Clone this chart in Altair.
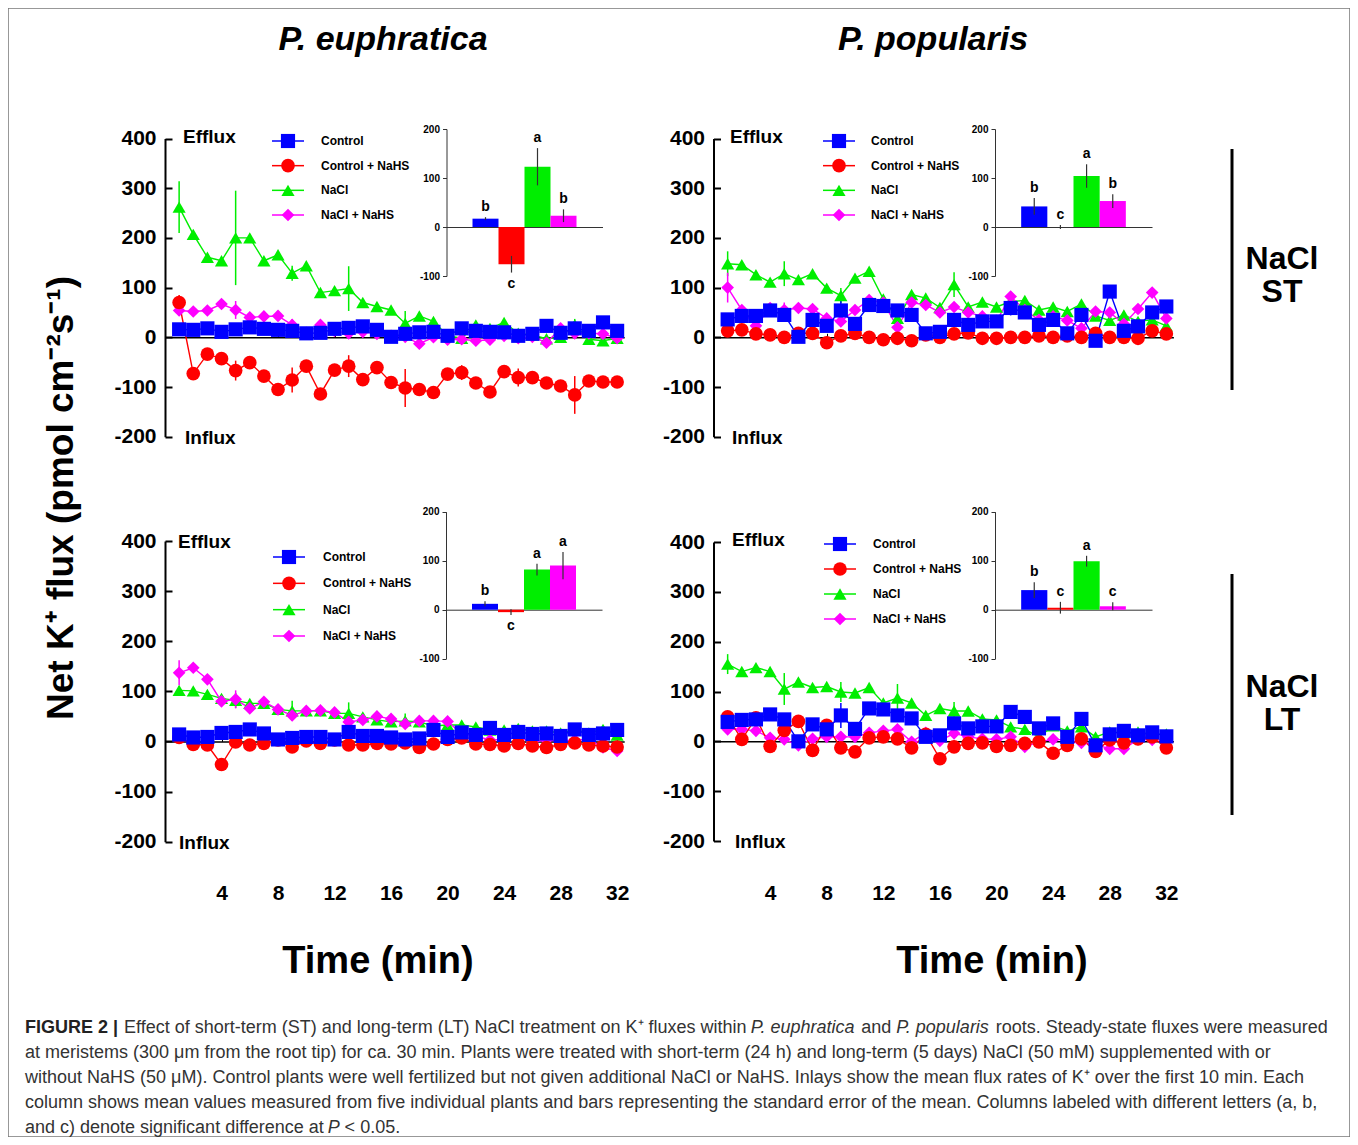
import altair as alt
import pandas as pd

# ---------------- data ----------------
TIME = list(range(1, 33))
SERIES = ["Control", "Control + NaHS", "NaCl", "NaCl + NaHS"]
COLORS = ["#0000FF", "#FF0000", "#00EE00", "#FF00FF"]
SHAPES = ["square", "circle", "triangle-up", "diamond"]
SIZES = [200, 160, 160, 120]
DRAW_ORDER = ["NaCl", "NaCl + NaHS", "Control + NaHS", "Control"]
Y_TICKS = [-200, -100, 0, 100, 200, 300, 400]
X_TICKS = [4, 8, 12, 16, 20, 24, 28, 32]
INSET_TICKS = [-100, 0, 100, 200]

# P. euphratica, NaCl short-term
EU_ST_CTRL = [16, 15, 18, 11, 16, 20, 17, 15, 13, 8, 9, 17, 19, 22, 15, 1, 7, 10, 11, 3, 18, 13, 11, 10, 3, 7, 23, 9, 18, 13, 30, 13]
EU_ST_CTRL_NAHS = [70, -73, -34, -43, -67, -51, -78, -105, -86, -58, -114, -66, -58, -85, -61, -91, -102, -105, -111, -74, -71, -92, -110, -69, -81, -81, -92, -98, -116, -88, -90, -90]
EU_ST_NACL = [262, 207, 161, 154, 200, 200, 154, 166, 129, 144, 90, 94, 98, 70, 62, 55, 28, 43, 32, 3, -2, 25, 18, 30, 8, 5, -3, 0, 25, -4, -7, -2]
EU_ST_NACL_NAHS = [54, 52, 54, 67, 55, 40, 42, 43, 25, 9, 25, 13, 8, 11, 7, 3, 1, -13, 0, -5, -4, -7, -5, 3, -2, 1, -11, 18, 8, 8, 7, -2]
EU_ST_CTRL_ERR = [3, 0, 0, 0, 4, 0, 0, 0, 4, 0, 0, 0, 5, 0, 0, 0, 4, 0, 0, 0, 8, 0, 0, 0, 5, 0, 0, 0, 8, 0, 0, 0]
EU_ST_CTRL_NAHS_ERR = [15, 0, 0, 0, 20, 0, 0, 0, 25, 0, 0, 0, 22, 0, 0, 0, 38, 0, 0, 0, 15, 0, 0, 0, 18, 0, 0, 0, 38, 0, 0, 0]
EU_ST_NACL_ERR = [52, 0, 0, 0, 95, 0, 0, 0, 15, 0, 0, 0, 45, 0, 0, 0, 25, 0, 0, 0, 10, 0, 0, 0, 8, 0, 0, 0, 12, 0, 0, 0]
EU_ST_NACL_NAHS_ERR = [10, 0, 0, 0, 18, 0, 0, 0, 12, 0, 0, 0, 8, 0, 0, 0, 10, 0, 0, 0, 8, 0, 0, 0, 8, 0, 0, 0, 10, 0, 0, 0]

# P. popularis, NaCl short-term
PO_ST_CTRL = [36, 43, 43, 54, 45, 1, 35, 23, 54, 27, 65, 63, 54, 45, 8, 11, 35, 25, 32, 32, 59, 50, 25, 35, 8, 45, -7, 92, 13, 22, 50, 62]
PO_ST_CTRL_NAHS = [13, 15, 7, 5, 0, 8, 8, -11, 3, 8, 0, -5, -2, -7, 5, 0, 7, 9, -2, -2, 0, 0, 3, 0, 3, 0, 8, 0, 0, -2, 13, 7]
PO_ST_NACL = [148, 146, 126, 111, 128, 116, 128, 99, 84, 119, 133, 77, 38, 86, 79, 60, 106, 61, 71, 61, 72, 74, 55, 61, 52, 67, 43, 34, 45, 32, 35, 23]
PO_ST_NACL_NAHS = [100, 55, 23, 59, 55, 59, 57, 38, 32, 55, 75, 70, 20, 70, 65, 50, 61, 50, 42, 33, 82, 55, 35, 42, 34, 18, 52, 50, 27, 57, 90, 38]
PO_ST_CTRL_ERR = [5, 0, 0, 0, 12, 0, 0, 0, 25, 0, 0, 0, 8, 0, 0, 0, 6, 0, 0, 0, 15, 0, 0, 0, 6, 0, 0, 0, 6, 0, 0, 0]
PO_ST_CTRL_NAHS_ERR = [5, 0, 0, 0, 5, 0, 0, 0, 5, 0, 0, 0, 5, 0, 0, 0, 5, 0, 0, 0, 5, 0, 0, 0, 5, 0, 0, 0, 5, 0, 0, 0]
PO_ST_NACL_ERR = [25, 0, 0, 0, 25, 0, 0, 0, 15, 0, 0, 0, 10, 0, 0, 0, 25, 0, 0, 0, 12, 0, 0, 0, 8, 0, 0, 0, 8, 0, 0, 0]
PO_ST_NACL_NAHS_ERR = [30, 0, 0, 0, 15, 0, 0, 0, 10, 0, 0, 0, 10, 0, 0, 0, 10, 0, 0, 0, 8, 0, 0, 0, 6, 0, 0, 0, 6, 0, 0, 0]

# P. euphratica, NaCl long-term
EU_LT_CTRL = [14, 8, 9, 17, 19, 24, 16, 4, 7, 9, 9, 4, 19, 11, 11, 8, 4, 6, 23, 9, 18, 13, 27, 13, 19, 15, 16, 11, 24, 13, 16, 23]
EU_LT_CTRL_NAHS = [8, -6, -7, -46, -1, -7, -4, 3, -11, 1, -4, 3, -7, -7, -4, -5, -3, -12, -5, 4, 7, -5, -6, -9, -4, -9, -12, -6, -3, -7, -9, -11]
EU_LT_NACL = [102, 101, 94, 86, 82, 76, 76, 64, 61, 61, 61, 56, 56, 49, 43, 39, 41, 39, 31, 33, 33, 29, 23, 23, 26, 21, 21, 17, 23, 17, 24, 13]
EU_LT_NACL_NAHS = [137, 147, 124, 80, 84, 66, 79, 64, 52, 61, 62, 58, 39, 43, 50, 45, 35, 41, 41, 40, 15, 11, 3, 4, 8, -1, 3, 1, 3, 4, -12, -19]
EU_LT_CTRL_ERR = [4, 0, 0, 0, 5, 0, 0, 0, 4, 0, 0, 0, 4, 0, 0, 0, 4, 0, 0, 0, 4, 0, 0, 0, 4, 0, 0, 0, 4, 0, 0, 0]
EU_LT_CTRL_NAHS_ERR = [4, 0, 0, 0, 5, 0, 0, 0, 4, 0, 0, 0, 4, 0, 0, 0, 4, 0, 0, 0, 4, 0, 0, 0, 4, 0, 0, 0, 4, 0, 0, 0]
EU_LT_NACL_ERR = [8, 0, 0, 0, 15, 0, 0, 0, 20, 0, 0, 0, 22, 0, 0, 0, 15, 0, 0, 0, 8, 0, 0, 0, 6, 0, 0, 0, 6, 0, 0, 0]
EU_LT_NACL_NAHS_ERR = [25, 0, 0, 0, 18, 0, 0, 0, 10, 0, 0, 0, 8, 0, 0, 0, 6, 0, 0, 0, 5, 0, 0, 0, 5, 0, 0, 0, 5, 0, 0, 0]

# P. popularis, NaCl long-term
PO_LT_CTRL = [39, 43, 44, 54, 44, 0, 34, 24, 52, 25, 66, 64, 52, 46, 9, 12, 36, 26, 30, 30, 59, 49, 26, 36, 9, 45, -8, 14, 21, 12, 18, 10]
PO_LT_CTRL_NAHS = [49, 4, 47, -10, 22, 40, -18, 32, -13, -21, 7, 9, 5, -13, 14, -35, -11, -4, -3, -10, -8, -4, -1, -24, -8, 5, -20, 3, -3, 5, 9, -13]
PO_LT_NACL = [155, 140, 148, 140, 105, 119, 108, 110, 99, 97, 108, 77, 87, 77, 52, 66, 61, 61, 45, 43, 29, 24, 9, 31, 21, 29, 9, 19, 17, 19, 14, 15]
PO_LT_NACL_NAHS = [24, 24, 21, 7, 4, -8, 5, 9, 9, 9, 17, 21, 24, -1, 17, 1, 16, 9, 5, 4, 9, -11, -1, 4, 3, -3, -6, -15, -15, 4, 3, 3]
PO_LT_CTRL_ERR = [6, 0, 0, 0, 10, 0, 0, 0, 25, 0, 0, 0, 8, 0, 0, 0, 6, 0, 0, 0, 6, 0, 0, 0, 6, 0, 0, 0, 6, 0, 0, 0]
PO_LT_CTRL_NAHS_ERR = [6, 0, 0, 0, 10, 0, 0, 0, 12, 0, 0, 0, 6, 0, 0, 0, 12, 0, 0, 0, 8, 0, 0, 0, 12, 0, 0, 0, 6, 0, 0, 0]
PO_LT_NACL_ERR = [20, 0, 0, 0, 32, 0, 0, 0, 20, 0, 0, 0, 28, 0, 0, 0, 18, 0, 0, 0, 8, 0, 0, 0, 6, 0, 0, 0, 6, 0, 0, 0]
PO_LT_NACL_NAHS_ERR = [6, 0, 0, 0, 5, 0, 0, 0, 5, 0, 0, 0, 5, 0, 0, 0, 5, 0, 0, 0, 5, 0, 0, 0, 5, 0, 0, 0, 5, 0, 0, 0]

# inlays: mean flux over first 10 min
EU_ST_BAR = [17, -76, 123, 23]
EU_ST_BAR_ERR = [3, 17, 38, 13]
EU_ST_LETTERS = ["b", "c", "a", "b"]
PO_ST_BAR = [42, 0, 104, 53]
PO_ST_BAR_ERR = [17, 4, 24, 14]
PO_ST_LETTERS = ["b", "c", "a", "b"]
EU_LT_BAR = [12, -5, 82, 90]
EU_LT_BAR_ERR = [5, 6, 12, 28]
EU_LT_LETTERS = ["b", "c", "a", "a"]
PO_LT_BAR = [40, 4, 99, 7]
PO_LT_BAR_ERR = [16, 12, 11, 8]
PO_LT_LETTERS = ["b", "c", "a", "c"]

# caption: each line is a list of (text, italic) segments
CAPTION = [
    [("Effect of short-term (ST) and long-term (LT) NaCl treatment on K\u207a fluxes within ", False),
     ("P. euphratica", True), (" and ", False), ("P. popularis", True),
     (" roots. Steady-state fluxes were measured", False)],
    [("at meristems (300 \u03bcm from the root tip) for ca. 30 min. Plants were treated with short-term (24 h) and long-term (5 days) NaCl (50 mM) supplemented with or", False)],
    [("without NaHS (50 \u03bcM). Control plants were well fertilized but not given additional NaCl or NaHS. Inlays show the mean flux rates of K\u207a over the first 10 min. Each", False)],
    [("column shows mean values measured from five individual plants and bars representing the standard error of the mean. Columns labeled with different letters (a, b,", False)],
    [("and c) denote significant difference at ", False), ("P", True), (" < 0.05.", False)],
]

# ---------------- layout ----------------
FONT = "Liberation Sans"
W, H = 1342, 1129
ONE = pd.DataFrame({"k": [0]})
HYPHEN_LABEL = "'' + datum.value"
CAP_SIZE = 18

# Arial / Liberation Sans advance widths (1/1000 em), used to chain caption segments
_W = {" ": 278, "-": 333, "(": 333, ")": 333, ".": 278, ",": 278, "<": 584, "\u207a": 370,
      "\u03bc": 576, "|": 260}
for ch in "abdeghnopqu0123456789":
    _W[ch] = 556
for ch, w in zip("cksvxyzrftijlmw", [500, 500, 500, 500, 500, 500, 500, 333, 278, 278, 222, 222, 222, 833, 722]):
    _W[ch] = w
for ch, w in zip("ABCDEFGHIJKLMNOPQRSTUVWXYZ",
                 [667, 667, 722, 722, 667, 611, 778, 722, 278, 500, 667, 556, 833, 722, 778, 667,
                  778, 722, 667, 611, 722, 667, 944, 667, 667, 611]):
    _W[ch] = w


def text_width(s, size):
    return sum(_W.get(ch, 556) for ch in s) * size / 1000.0


color_enc = alt.Color("series:N", scale=alt.Scale(domain=SERIES, range=COLORS), legend=None)
shape_enc = alt.Shape("series:N", scale=alt.Scale(domain=SERIES, range=SHAPES), legend=None)
size_enc = alt.Size("series:N", scale=alt.Scale(domain=SERIES, range=SIZES), legend=None)


def series_frame(vals, errs):
    rows = []
    for s in DRAW_ORDER:
        i = SERIES.index(s)
        for t, v, e in zip(TIME, vals[i], errs[i]):
            rows.append({"series": s, "t": t, "v": v, "lo": v - e, "hi": v + e, "err": e})
    return pd.DataFrame(rows)


def main_panel(vals, errs, x0, x1, ytop, ybot, bottom_labels):
    df = series_frame(vals, errs)
    xs = alt.Scale(domain=[0, 32.5], range=[x0, x1], nice=False, zero=False)
    ys = alt.Scale(domain=[-200, 400], range=[ybot, ytop], nice=False, zero=False)
    yzero = ybot + (ytop - ybot) / 3.0
    base = alt.Chart(df)
    zero_axis = alt.Axis(orient="top", offset=-yzero, values=X_TICKS, labels=False, tickSize=4,
                         tickColor="black", tickWidth=1, domainColor="black", domainWidth=1.5,
                         grid=False, title=None)
    y_axis = alt.Axis(orient="left", offset=-x0, values=Y_TICKS, tickSize=0, labelPadding=9,
                      labelFont=FONT, labelFontSize=21, labelFontWeight="bold", labelColor="black",
                      domainColor="black", domainWidth=2, grid=False, title=None,
                      labelFlush=False, labelOverlap=False, labelExpr=HYPHEN_LABEL)
    tick_axis = alt.Axis(orient="right", offset=x0 - W, values=Y_TICKS, labels=False, domain=False,
                         tickSize=7, tickWidth=2, tickColor="black", grid=False, title=None)
    if bottom_labels:
        bx_axis = alt.Axis(orient="bottom", offset=869 - H, values=X_TICKS, domain=False, ticks=False,
                           labelPadding=5, labelFont=FONT, labelFontSize=21, labelFontWeight="bold",
                           labelColor="black", grid=False, title=None, labelFlush=False,
                           labelOverlap=False)
    else:
        bx_axis = None

    lines = base.mark_line(strokeWidth=1.4).encode(
        x=alt.X("t:Q", scale=xs, axis=zero_axis),
        y=alt.Y("v:Q", scale=ys, axis=y_axis),
        color=color_enc,
    )
    err = base.transform_filter("datum.err > 0").mark_rule(strokeWidth=1.5).encode(
        x=alt.X("t:Q", scale=xs, axis=None),
        y=alt.Y("lo:Q", scale=ys, axis=tick_axis),
        y2="hi:Q",
        color=color_enc,
    )
    pts = base.mark_point(filled=True, opacity=1).encode(
        x=alt.X("t:Q", scale=xs, axis=bx_axis),
        y=alt.Y("v:Q", scale=ys, axis=None),
        color=color_enc,
        shape=shape_enc,
        size=size_enc,
    )
    return [lines, err, pts]


def inset(means, errs, letters, x0, x1, ytop, ybot):
    df = pd.DataFrame({"series": SERIES, "mean": means, "err": errs, "letter": letters})
    df["lo"] = df["mean"] - df["err"]
    df["hi"] = df["mean"] + df["err"]
    df["lab"] = [h if m >= 0 else l for m, h, l in zip(df["mean"], df["hi"], df["lo"])]
    xs = alt.Scale(type="band", domain=SERIES, range=[x0, x1], paddingInner=0, paddingOuter=1)
    ys = alt.Scale(domain=[-100, 200], range=[ybot, ytop], nice=False, zero=False)
    yzero = ybot + (ytop - ybot) / 3.0
    base = alt.Chart(df)
    x_axis = alt.Axis(orient="top", offset=-yzero, labels=False, ticks=False, domainColor="#333",
                      domainWidth=1, grid=False, title=None)
    y_axis = alt.Axis(orient="left", offset=-x0, values=INSET_TICKS, tickSize=4, tickColor="#333",
                      labelPadding=3, labelFont=FONT, labelFontSize=10, labelFontWeight="bold",
                      labelColor="black", domainColor="#333", grid=False, title=None,
                      labelFlush=False, labelOverlap=False, labelExpr=HYPHEN_LABEL)
    bars = base.mark_bar().encode(
        x=alt.X("series:N", scale=xs, axis=x_axis),
        y=alt.Y("mean:Q", scale=ys, axis=y_axis),
        y2=alt.datum(0),
        color=color_enc,
    )
    ebar = base.mark_rule(color="#333", strokeWidth=1.2).encode(
        x=alt.X("series:N", scale=xs, axis=None),
        y=alt.Y("lo:Q", scale=ys, axis=None),
        y2="hi:Q",
    )
    up = base.transform_filter("datum.mean >= 0").mark_text(
        font=FONT, fontSize=14, fontWeight="bold", baseline="alphabetic", dy=-6, color="black"
    ).encode(x=alt.X("series:N", scale=xs, axis=None), y=alt.Y("lab:Q", scale=ys, axis=None),
             text="letter:N")
    down = base.transform_filter("datum.mean < 0").mark_text(
        font=FONT, fontSize=14, fontWeight="bold", baseline="top", dy=4, color="black"
    ).encode(x=alt.X("series:N", scale=xs, axis=None), y=alt.Y("lab:Q", scale=ys, axis=None),
             text="letter:N")
    return [bars, ebar, up, down]


def legend(xl0, xl1, xsym, xtext, y0, y3):
    df = pd.DataFrame({"series": SERIES, "row": list(range(len(SERIES)))})
    ysc = alt.Scale(domain=[0, len(SERIES) - 1], range=[y0, y3], nice=False, zero=False)
    y = alt.Y("row:Q", scale=ysc, axis=None)
    base = alt.Chart(df)
    rule = base.mark_rule(strokeWidth=1.5).encode(x=alt.value(xl0), x2=alt.value(xl1), y=y, color=color_enc)
    sym = base.mark_point(filled=True, opacity=1).encode(x=alt.value(xsym), y=y, color=color_enc,
                                                          shape=shape_enc, size=size_enc)
    txt = base.mark_text(align="left", baseline="middle", font=FONT, fontSize=12,
                         fontWeight="bold", color="black").encode(x=alt.value(xtext), y=y, text="series:N")
    return [rule, sym, txt]


def label(text, x, y, size, weight="bold", style="normal", align="center", angle=0, color="black"):
    return alt.Chart(ONE).mark_text(
        text=text, font=FONT, fontSize=size, fontWeight=weight, fontStyle=style, align=align,
        baseline="middle", angle=angle, color=color,
    ).encode(x=alt.value(x), y=alt.value(y))


def vline(x, y0, y1):
    return alt.Chart(ONE).mark_rule(strokeWidth=3, color="black").encode(
        x=alt.value(x), y=alt.value(y0), y2=alt.value(y1))


layers = []
layers += main_panel([EU_ST_CTRL, EU_ST_CTRL_NAHS, EU_ST_NACL, EU_ST_NACL_NAHS],
                     [EU_ST_CTRL_ERR, EU_ST_CTRL_NAHS_ERR, EU_ST_NACL_ERR, EU_ST_NACL_NAHS_ERR],
                     157, 616.2, 130.5, 428.7, False)
layers += main_panel([PO_ST_CTRL, PO_ST_CTRL_NAHS, PO_ST_NACL, PO_ST_NACL_NAHS],
                     [PO_ST_CTRL_ERR, PO_ST_CTRL_NAHS_ERR, PO_ST_NACL_ERR, PO_ST_NACL_NAHS_ERR],
                     705.5, 1165.4, 130.5, 428.7, False)
layers += main_panel([EU_LT_CTRL, EU_LT_CTRL_NAHS, EU_LT_NACL, EU_LT_NACL_NAHS],
                     [EU_LT_CTRL_ERR, EU_LT_CTRL_NAHS_ERR, EU_LT_NACL_ERR, EU_LT_NACL_NAHS_ERR],
                     157, 616.2, 533, 833.7, True)
layers += main_panel([PO_LT_CTRL, PO_LT_CTRL_NAHS, PO_LT_NACL, PO_LT_NACL_NAHS],
                     [PO_LT_CTRL_ERR, PO_LT_CTRL_NAHS_ERR, PO_LT_NACL_ERR, PO_LT_NACL_NAHS_ERR],
                     705.5, 1165.4, 534, 833, True)

layers += inset(EU_ST_BAR, EU_ST_BAR_ERR, EU_ST_LETTERS, 438.5, 594.5, 121, 268)
layers += inset(PO_ST_BAR, PO_ST_BAR_ERR, PO_ST_LETTERS, 987, 1144, 121, 268)
layers += inset(EU_LT_BAR, EU_LT_BAR_ERR, EU_LT_LETTERS, 438, 594, 503.7, 650.7)
layers += inset(PO_LT_BAR, PO_LT_BAR_ERR, PO_LT_LETTERS, 987, 1144, 503.7, 650.7)

layers += legend(264, 296, 280, 313, 133, 207)
layers += legend(815, 847, 831, 863, 133, 207)
layers += legend(265, 297, 281, 315, 549, 628)
layers += legend(816, 848, 832, 865, 536, 611)

layers += [
    label("P. euphratica", 375, 32, 34, style="italic"),
    label("P. popularis", 925, 32, 34, style="italic"),
    label("Efflux", 175, 129, 19, align="left"),
    label("Influx", 177, 430, 19, align="left"),
    label("Efflux", 722, 129, 19, align="left"),
    label("Influx", 724, 430, 19, align="left"),
    label("Efflux", 170, 534, 19, align="left"),
    label("Influx", 171, 835, 19, align="left"),
    label("Efflux", 724, 532, 19, align="left"),
    label("Influx", 727, 834, 19, align="left"),
    label("Net K\u207a flux (pmol cm\u207b\u00b2s\u207b\u00b9)", 54, 490, 37, angle=270),
    label("Time (min)", 370, 954, 38),
    label("Time (min)", 984, 954, 38),
    label("NaCl", 1274, 251, 32),
    label("ST", 1274, 284, 32),
    label("NaCl", 1274, 679, 32),
    label("LT", 1274, 712, 32),
    vline(1224, 141, 382),
    vline(1224, 566, 807),
    label("FIGURE 2 |", 17, 1020, CAP_SIZE, align="left", color="#222"),
]
SPACE_W = text_width(" ", CAP_SIZE)
for i, segments in enumerate(CAPTION):
    x = 116 if i == 0 else 17
    for seg, italic in segments:
        core = seg.strip()
        if seg.startswith(" "):
            x += SPACE_W
        layers.append(label(core, x, 1020 + 25 * i, CAP_SIZE, weight="normal",
                            style="italic" if italic else "normal", align="left", color="#333"))
        x += text_width(core, CAP_SIZE) * 0.995
        if seg.endswith(" "):
            x += SPACE_W

chart = alt.layer(*layers).resolve_scale(
    x="independent", y="independent", color="independent", shape="independent", size="independent"
).properties(
    width=W, height=H, padding=0, autosize=alt.AutoSizeParams(type="none")
).configure_view(stroke="#777", strokeWidth=1.5).configure_axis(grid=False)

chart.save("out.html", embed_options={"renderer": "svg", "actions": False})
